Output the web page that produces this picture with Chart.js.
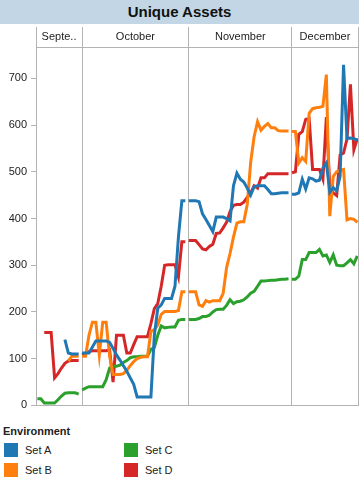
<!DOCTYPE html>
<html>
<head>
<meta charset="utf-8">
<script src="https://cdn.jsdelivr.net/npm/chart.js@4.4.0/dist/chart.umd.min.js"></script>
<style>
  body { margin: 0; width: 359px; height: 484px; position: relative; overflow: hidden; background: #fff;
         font-family: "Liberation Sans", Arial, sans-serif; }
  #title { height: 24px; line-height: 24px; background: #c2d6e5; text-align: center;
           font-weight: bold; font-size: 15px; color: #111; }
  #wrap { position: absolute; left: 0; top: 24px; width: 359px; height: 392px; }
  #legend { position: absolute; left: 0; top: 425px; width: 359px; font-size: 11px; color: #222; }
  #legend .head { position: absolute; left: 3px; top: 0; font-weight: bold; }
  #legend .item { position: absolute; height: 14px; line-height: 14px; }
  #legend .sw { position: absolute; left: 0; top: 0; width: 14px; height: 14px; }
  #legend .lab { position: absolute; left: 21px; top: 0; white-space: nowrap; }
</style>
</head>
<body>
<div id="title">Unique Assets</div>
<div id="wrap"><canvas id="chart" width="359" height="392"></canvas></div>
<div id="legend"><div class="head">Environment</div></div>
<script>
// one point per day, 18 Sep .. 20 Dec
const dates = [
  '09-18','09-19','09-20','09-21','09-22','09-23','09-24','09-25','09-26','09-27','09-28','09-29','09-30',
  '10-01','10-02','10-03','10-04','10-05','10-06','10-07','10-08','10-09','10-10','10-11','10-12','10-13','10-14','10-15','10-16',
  '10-17','10-18','10-19','10-20','10-21','10-22','10-23','10-24','10-25','10-26','10-27','10-28','10-29','10-30','10-31',
  '11-01','11-02','11-03','11-04','11-05','11-06','11-07','11-08','11-09','11-10','11-11','11-12','11-13','11-14','11-15',
  '11-16','11-17','11-18','11-19','11-20','11-21','11-22','11-23','11-24','11-25','11-26','11-27','11-28','11-29','11-30',
  '12-01','12-02','12-03','12-04','12-05','12-06','12-07','12-08','12-09','12-10','12-11','12-12','12-13','12-14','12-15',
  '12-16','12-17','12-18','12-19','12-20'
];
const monthNames = ['Septe..', 'October', 'November', 'December'];
const monthStarts = ['10-01', '11-01', '12-01'];

const setNames = ['Set A', 'Set B', 'Set C', 'Set D'];
const setColors = ['#1f77b4', '#ff7f0e', '#2ca02c', '#d62728'];

const setA = [
  null,null,null,null,null,null,null,null,141,112,110,110,110,
  112,112,112,125,138,138,138,138,135,122,108,97,85,73,59,45,18,18,18,18,18,150,208,215,229,229,229,255,360,438,438,
  438,438,438,436,410,398,385,372,403,403,403,400,395,470,497,484,478,465,450,468,470,470,470,462,453,453,454,455,455,455,
  452,452,455,484,463,487,485,480,482,508,519,456,466,459,491,729,571,572,571,568
];
const setB = [
  null,null,null,null,null,null,null,null,null,95,105,105,105,
  105,105,150,178,178,108,178,178,105,66,66,66,68,75,85,94,100,103,104,104,158,162,172,195,201,201,201,201,203,243,243,
  243,243,243,215,212,224,221,224,224,224,240,295,325,360,390,393,393,430,520,575,607,589,597,603,594,594,588,587,587,587,
  586,586,519,530,522,625,635,637,638,640,708,405,490,500,503,505,397,400,398,392
];
const setC = [
  14,14,5,5,5,5,12,20,26,27,27,27,24,
  33,37,40,40,40,40,40,55,80,84,84,86,92,96,102,104,104,105,105,105,120,124,150,170,166,167,168,168,182,184,184,
  184,184,184,186,190,190,193,200,205,206,206,214,226,218,222,223,226,232,240,244,255,266,266,267,268,268,269,270,270,271,
  270,270,277,312,312,327,327,327,334,320,322,306,322,300,299,299,305,312,303,320
];
const setD = [
  null,null,156,156,156,59,68,80,90,95,96,96,96,
  108,112,115,117,117,117,117,117,119,50,150,150,150,112,112,130,147,147,147,147,175,207,218,255,300,301,301,301,275,350,350,
  353,353,353,344,335,333,340,345,368,369,380,392,415,428,430,430,435,445,455,470,465,487,487,496,496,496,496,496,496,496,
  498,500,580,586,612,614,505,505,505,484,617,470,455,449,536,540,570,687,547,571
];
const series = [setA, setB, setC, setD];

const GRID = '#b3b3b3';
const TEXT = '#222';

function dayNum(md) {
  const [m, d] = md.split('-').map(Number);
  return (Date.UTC(2013, m - 1, d) - Date.UTC(2013, 9, 1)) / 864e5;
}
const xs = dates.map(dayNum);
const xMin = -13.4, xMax = 80.2;
const edges = [xMin, ...monthStarts.map(dayNum), xMax];
const mids = edges.slice(0, -1).map((v, i) => (v + edges[i + 1]) / 2);

new Chart(document.getElementById('chart'), {
  type: 'line',
  data: {
    datasets: series.map((vals, k) => ({
      label: setNames[k],
      data: vals.map((v, i) => ({ x: xs[i], y: v })),
      borderColor: setColors[k],
      backgroundColor: setColors[k],
      borderWidth: 3,
      pointRadius: 0,
      tension: 0,
      fill: false,
      segment: {
        // lines break at each month pane
        borderColor: ctx => dates[ctx.p0DataIndex].slice(0, 2) !== dates[ctx.p1DataIndex].slice(0, 2) ? 'rgba(0,0,0,0)' : undefined
      }
    }))
  },
  options: {
    responsive: false,
    animation: false,
    devicePixelRatio: 1,
    layout: { padding: { top: 0, right: 1, bottom: 0, left: 0 } },
    plugins: { legend: { display: false }, tooltip: { enabled: false } },
    scales: {
      x: {
        type: 'linear', min: xMin, max: xMax,
        afterBuildTicks: s => { s.ticks = edges.map(v => ({ value: v })); },
        ticks: { display: false },
        grid: { color: GRID, drawTicks: false },
        border: { color: GRID },
        afterFit: s => { s.height = 4; }
      },
      x2: {
        type: 'linear', position: 'top', min: xMin, max: xMax,
        afterBuildTicks: s => { s.ticks = [...edges, ...mids].map(v => ({ value: v })); },
        ticks: {
          autoSkip: false, maxRotation: 0, padding: -17,
          font: { family: '"Liberation Sans", Arial, sans-serif', size: 11 }, color: TEXT,
          callback: (v, i) => i >= edges.length ? monthNames[i - edges.length] : ''
        },
        grid: { drawOnChartArea: false, tickLength: 20, color: c => c.index < edges.length ? GRID : 'rgba(0,0,0,0)' },
        border: { color: GRID },
        afterFit: s => { s.height = 23; }
      },
      y: {
        min: 0, max: 767,
        ticks: {
          stepSize: 100, includeBounds: false, padding: 4,
          font: { family: '"Liberation Sans", Arial, sans-serif', size: 11 }, color: TEXT
        },
        grid: { drawOnChartArea: false, tickLength: 5, color: GRID },
        border: { color: GRID },
        afterFit: s => { s.width = 36; }
      }
    }
  }
});

// legend, two columns: A,B then C,D
const legend = document.getElementById('legend');
setNames.forEach((name, k) => {
  const item = document.createElement('div');
  item.className = 'item';
  item.style.left = (k < 2 ? 4 : 124) + 'px';
  item.style.top = (k % 2 === 0 ? 18 : 38) + 'px';
  item.innerHTML = '<div class="sw" style="background:' + setColors[k] + '"></div><div class="lab">' + name + '</div>';
  legend.appendChild(item);
});
</script>
</body>
</html>
